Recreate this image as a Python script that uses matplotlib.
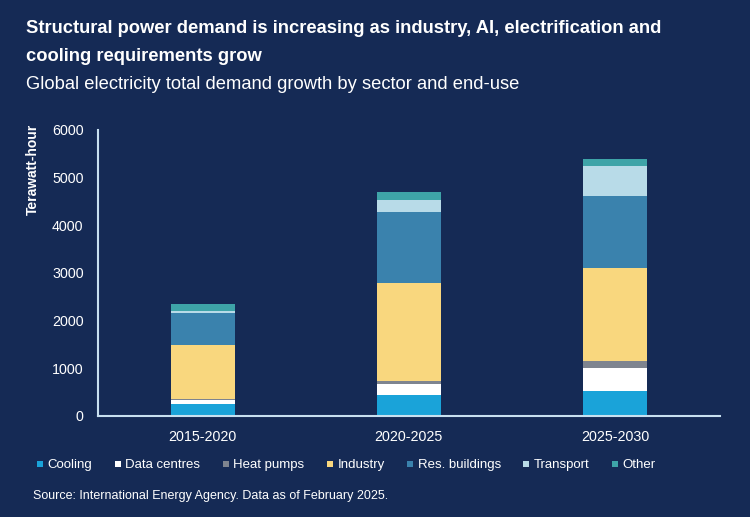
import matplotlib.pyplot as plt
from matplotlib.lines import Line2D

plt.rcParams["font.family"] = ["Liberation Sans", "DejaVu Sans"]

periods = ["2015-2020", "2020-2025", "2025-2030"]
sectors = ["Cooling", "Data centres", "Heat pumps", "Industry",
           "Res. buildings", "Transport", "Other"]
cooling = [250, 430, 520]
data_centres = [80, 230, 480]
heat_pumps = [20, 70, 140]
industry = [1130, 2050, 1960]
buildings = [670, 1490, 1500]
transport = [40, 250, 640]
other = [160, 170, 140]
yticks = [0, 1000, 2000, 3000, 4000, 5000, 6000]

colors = ["#1aa3d9", "#ffffff", "#7e848f", "#f9d77e",
          "#3a82ad", "#b8dbe8", "#3ea4a8"]
bg = "#152a55"
spine = "#c8e0f0"

fig = plt.figure(figsize=(7.5, 5.17), dpi=100, facecolor=bg)
ax = fig.add_axes([0.130, 0.196, 0.830, 0.553])
ax.set_facecolor(bg)

x = range(len(periods))
bottom = [0, 0, 0]
for vals, c in zip([cooling, data_centres, heat_pumps, industry,
                    buildings, transport, other], colors):
    ax.bar(x, vals, width=0.31, bottom=bottom, color=c, linewidth=0)
    bottom = [b + v for b, v in zip(bottom, vals)]

ax.set_xlim(-0.51, 2.51)
ax.set_ylim(0, 6000)
ax.set_yticks(yticks)
ax.set_xticks(list(x))
ax.set_xticklabels(periods)
ax.tick_params(length=0, colors="white", labelsize=10.3)
ax.tick_params(axis="y", pad=10)
ax.tick_params(axis="x", pad=10)
for s in ["top", "right"]:
    ax.spines[s].set_visible(False)
for s in ["left", "bottom"]:
    ax.spines[s].set_color(spine)
    ax.spines[s].set_linewidth(1.5)

ax.set_ylabel("Terawatt-hour", color="white", fontsize=10,
              fontweight="bold", loc="top")
ax.yaxis.set_label_coords(-0.092, 1.02)

fig.text(0.035, 0.945, "Structural power demand is increasing as industry, AI, electrification and",
         color="white", fontsize=13.2, fontweight="bold", va="center")
fig.text(0.035, 0.890, "cooling requirements grow",
         color="white", fontsize=13.2, fontweight="bold", va="center")
fig.text(0.035, 0.836, "Global electricity total demand growth by sector and end-use",
         color="white", fontsize=13.2, va="center")

handles = [Line2D([], [], marker="s", linestyle="none", markersize=5,
                  markerfacecolor=c, markeredgewidth=0) for c in colors]
leg = fig.legend(handles, sectors, loc="center left",
                 bbox_to_anchor=(0.032, 0.100), ncol=7, frameon=False,
                 fontsize=9.5, handlelength=0.6, handletextpad=0.3,
                 columnspacing=1.6, labelcolor="white")

fig.text(0.044, 0.04, "Source: International Energy Agency. Data as of February 2025.",
         color="white", fontsize=9, va="center")

fig.savefig("out.png", dpi=100, facecolor=bg)
